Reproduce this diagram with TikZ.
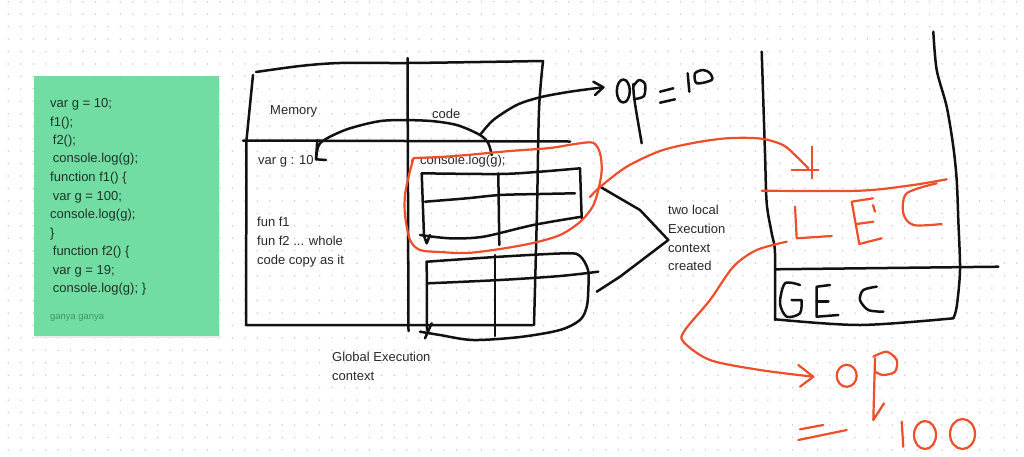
\documentclass[tikz,border=0pt]{standalone}
\usepackage{fontspec}
\setmainfont{Liberation Sans}
\definecolor{inkc}{RGB}{17,17,17}
\definecolor{redc}{RGB}{238,78,42}
\definecolor{noteg}{RGB}{114,221,162}
\definecolor{notetxt}{RGB}{28,52,40}
\definecolor{notesub}{RGB}{62,150,102}
\definecolor{lblc}{RGB}{40,40,40}
\definecolor{dotc}{RGB}{205,205,205}
\begin{document}
\begin{tikzpicture}[x=1pt,y=-1pt,
  ink/.style={draw=inkc,line width=2.5pt,line cap=round,line join=round},
  rink/.style={draw=redc,line width=2.2pt,line cap=round,line join=round},
  lbl/.style={font=\fontsize{13}{15}\selectfont,text=lblc,anchor=base west,inner sep=0pt},
  codetxt/.style={font=\fontsize{13}{15}\selectfont,text=notetxt,anchor=base west,inner sep=0pt}]
\useasboundingbox (0,0) rectangle (1024,456);
\fill[white] (0,0) rectangle (1024,456);
% dot grid
\foreach \i in {0,...,81}{\foreach \j in {0,...,36}{\fill[dotc] (8.3+12.45*\i,1.7+12.45*\j) circle (0.85pt);}}
% sticky note
\fill[black!8] (35,77.5) rectangle (220,338);
\fill[noteg] (34,76) rectangle (219,336);
\node[codetxt] (c1) at (50,107.2) {var g = 10;};
\node[codetxt] (c2) at (50,126.2) {f1();};
\node[codetxt] (c3) at (52.7,144.5) {f2();};
\node[codetxt] (c4) at (52.7,162.8) {console.log(g);};
\node[codetxt] (c5) at (50,181.2) {function f1() \{};
\node[codetxt] (c6) at (52.7,200.5) {var g = 100;};
\node[codetxt] (c7) at (50,218.8) {console.log(g);};
\node[codetxt] (c8) at (50,237.2) {\}};
\node[codetxt] (c9) at (52.7,255.5) {function f2() \{};
\node[codetxt] (c10) at (52.7,274.5) {var g = 19;};
\node[codetxt] (c11) at (52.7,292.8) {console.log(g); \}};
\node[codetxt,text=notesub,font=\fontsize{9.4}{11}\selectfont] (c12) at (50,319) {ganya ganya};
% labels
\node[lbl] (mem) at (270,114.5) {Memory};
\node[lbl] (codel) at (432,118.5) {code};
\node[lbl] (varg) at (258,164.5) {var g : 10};
\node[lbl] (clog) at (420,164.5) {console.log(g);};
\node[lbl] (f1) at (257,226.5) {fun f1};
\node[lbl] (f2) at (257,245.5) {fun f2 ... whole};
\node[lbl] (f3) at (257,264.5) {code copy as it};
\node[lbl] (gec1) at (332,361.5) {Global Execution};
\node[lbl] (gec2) at (332,380) {context};
\node[lbl] (tl1) at (668,214.5) {two local};
\node[lbl] (tl2) at (668,233.5) {Execution};
\node[lbl] (tl3) at (668,252) {context};
\node[lbl] (tl4) at (668,270.5) {created};
% global execution context box
\draw[ink] plot[smooth] coordinates {(256,72) (300,66) (340,63) (407,63) (480,62) (543,61)};
\draw[ink] (253,75) -- (246.5,140) -- (246,325) -- (533,325);
\draw[ink] plot[smooth] coordinates {(543,61) (539,110) (537,210) (534,325)};
\draw[ink] (407.5,58) -- (408.5,331);
\draw[ink] (243,140.5) -- (570,141.5);
% arrow code -> var g
\coordinate (cstart) at (491.7,155);
\coordinate (vtip) at (316,159.3);
\draw[ink] plot[smooth] coordinates {(cstart) (488.3,143.3) (480,135) (456.7,125) (426.7,120.7) (383.3,120.7) (350,128.3) (330,136.7) (320,143.3) (317.3,150) (vtip)};
\draw[ink] (317.3,140) -- (vtip) -- (326,160);
% arrow code -> op = 10
\coordinate (optip) at (603.3,87.3);
\draw[ink] plot[smooth] coordinates {(480,135) (493.3,120) (516.7,105) (540,97.3) (570,91.7) (optip)};
\draw[ink] (593.3,81.7) -- (optip) -- (595,95);
% op = 10 handwriting
\draw[ink] (623.3,91) ellipse [x radius=6.5, y radius=11.5];
\draw[ink] (633.3,84) .. controls (633,95) and (636,110) .. (641.7,143.3);
\draw[ink] plot[smooth] coordinates {(633.5,86) (639,80) (645,84) (644,96) (635,99)};
\draw[ink] (660,91.7) -- (673.3,88.3);
\draw[ink] (660,102.7) -- (675,99.3);
\draw[ink] (687.7,73.3) -- (689.3,91.7);
\draw[ink] plot[smooth cycle] coordinates {(695,73.3) (696.7,83.3) (711.7,80) (710,73.3) (703.3,70)};
% upper local EC table
\draw[ink] plot[smooth] coordinates {(421.7,173.3) (500,174) (540,171.7) (580,168.3)};
\draw[ink] (421.7,173.3) -- (424,236) -- (426.7,243.3) -- (430,235);
\draw[ink] (580,168.3) -- (581.7,218.3);
\draw[ink] plot[smooth] coordinates {(425,201.7) (466.7,198.3) (500,195) (540,194) (575,193.3)};
\draw[ink] plot[smooth] coordinates {(420,235) (450,238.3) (483.3,236.7) (533.3,225) (581.7,216.7)};
\draw[ink] (498.3,173.3) -- (499.3,245);
% lower local EC table
\draw[ink] plot[smooth] coordinates {(426.7,261.7) (500,256.7) (566.7,253.3) (580,256) (588,270) (588.3,290) (586.7,307) (580,320) (560,330) (520,337) (473,340) (440,335) (420,331.7)};
\draw[ink] plot[smooth] coordinates {(428.3,283.3) (500,280) (560,276) (598.3,271.7)};
\draw[ink] (426.7,261.7) -- (427,330);
\draw[ink] (431.7,323.3) -- (425,338.3);
\draw[ink] (495,255) -- (495,336);
% bracket to label
\coordinate (brtip) at (668.3,240);
\draw[ink] (600,186.7) -- (640,210) -- (brtip) -- (620,276.7) -- (596.7,291.7);
% call stack
\draw[ink] plot[smooth] coordinates {(761.7,51.7) (765,153.3) (766.7,203.3) (771.7,233.3) (775,253.3) (775,320)};
\draw[ink] plot[smooth] coordinates {(933.3,31.7) (936.7,70) (946.7,106.7) (953.3,146.7) (956.7,180) (958.3,220) (960,270) (956.7,306.7) (953.3,318.3)};
\draw[ink] plot[smooth] coordinates {(775,319.3) (860,325) (953.3,318.3)};
\draw[ink] (775,269.3) -- (998.3,266.7);
% GEC letters
\draw[ink] plot[smooth] coordinates {(800,285) (785,283.3) (780,303.3) (786.7,316.7) (800,313.3) (801.7,300)} -- (791.7,300);
\draw[ink] (830,285) -- (816.7,286.7) -- (816.7,316.7) -- (838.3,315);
\draw[ink] (816.7,301.7) -- (828.3,301.7);
\draw[ink] plot[smooth] coordinates {(876.7,286.7) (863.3,290) (860,300) (868.3,310) (883.3,311.7)};
% red lasso
\draw[rink] (411.7,161) -- (414,158);
\draw[rink] plot[smooth] coordinates {(414,158) (440,157) (467,155) (510,151) (550,148) (575,144) (593,142.7) (600,153) (601.7,170) (599,187) (593,206) (580,222) (560,235) (533,243) (500,249) (467,253) (440,252) (420,250) (410,240) (405,215) (405,195) (409,175) (413,160)};
% red arrow to stack
\coordinate (lecin) at (808.3,168.3);
\draw[rink] plot[smooth] coordinates {(590,197) (600,187) (626.7,166.7) (660,151) (693,143) (726.7,138.3) (760,138.5) (783,145) (797,157) (lecin)};
\draw[rink] (791.7,170) -- (818.3,170);
\draw[rink] (811.7,146.7) -- (811.7,178.3);
% LEC red divider and letters
\draw[rink] plot[smooth] coordinates {(761.7,190.7) (860,190.7) (913,185) (946.7,179.3)};
\draw[rink] (795,206.7) -- (796.7,238.3) -- (831.7,236);
\draw[rink] (873,198.3) -- (851.7,201.7) -- (859.3,244) -- (881.7,238.3);
\draw[rink] (856.7,224) -- (873.3,221.7);
\draw[rink] (873,205) -- (875,211.7);
\draw[rink] plot[smooth] coordinates {(936.7,183.3) (906.7,193.3) (903.3,213.3) (913.3,225) (941.7,224)};
% red arrow to op = 100
\coordinate (lecout) at (786.7,241.7);
\coordinate (op2tip) at (813.3,376.7);
\draw[rink] plot[smooth] coordinates {(lecout) (756.7,250) (733.3,266.7) (710,300) (685,330) (683.3,341.7) (710,360) (760,370) (op2tip)};
\draw[rink] (798.3,365) -- (op2tip) -- (800,386.7);
% op = 100 handwriting
\draw[rink] (846.7,375.8) ellipse [x radius=10, y radius=11];
\draw[rink] plot[smooth] coordinates {(875,371.7) (883.3,375) (895,371.7) (896.7,360) (886.7,351.7) (873.3,356.7)};
\draw[rink] (875,358.3) -- (873.3,420) -- (884,403.3);
\draw[rink] (800,429.3) -- (823.3,425);
\draw[rink] (798.3,440) -- (846.7,430);
\draw[rink] (901.7,421.7) -- (903.3,446.7);
\draw[rink] (925,435) ellipse [x radius=11, y radius=14];
\draw[rink] (962.5,434) ellipse [x radius=12.5, y radius=15];
\end{tikzpicture}
\end{document}
